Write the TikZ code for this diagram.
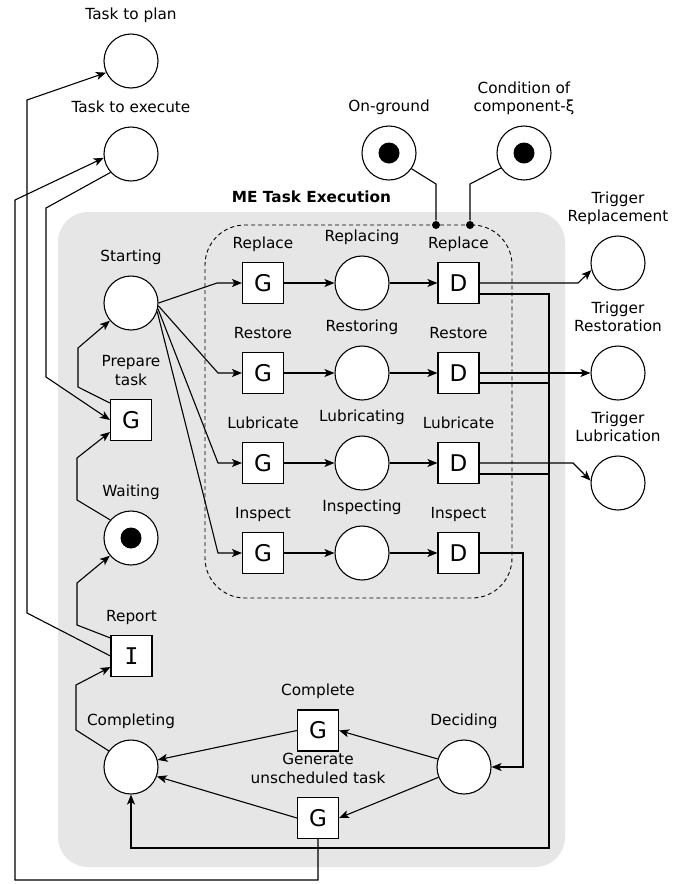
\documentclass[tikz,border=0pt]{standalone}
\usepackage{fontspec}
\setmainfont{DejaVu Sans}
\setmonofont{DejaVu Sans Mono}
\usepackage{xcolor}
\usepackage{tikz}
\usetikzlibrary{arrows.meta,petri,calc}

\definecolor{bggrey}{HTML}{E6E6E6}

\begin{document}
\begin{tikzpicture}[
  x=1pt, y=-1pt,
  font=\fontsize{15.3}{18.5}\selectfont,
  line width=1.1pt,
  label distance=7.5pt,
  every label/.style={inner sep=0pt, align=center, execute at end node=\strut},
  place/.style={circle, draw, fill=white, inner sep=0pt, minimum size=54pt},
  transition/.style={rectangle, draw, fill=white, inner sep=0pt, minimum size=41pt, font=\fontsize{23}{26}\selectfont},
  every token/.style={minimum size=21pt},
  panel/.style={rectangle, fill=bggrey, rounded corners=30pt},
  groupbox/.style={rectangle, draw, line width=0.9pt, dash pattern=on 4pt off 3pt, rounded corners=40pt},
  dot/.style={circle, fill, inner sep=0pt, minimum size=8pt},
  arrow/.style={-{Stealth[length=10pt, width=8pt, inset=2.5pt]}}
]
  \useasboundingbox (0,0) rectangle (689,884);

  \node[panel, minimum width=507pt, minimum height=655pt,
        label={[label distance=3pt, font=\fontsize{15.3}{18.5}\selectfont\bfseries]above:ME Task Execution}] (me) at (311.5,539.5) {};
  \node[groupbox, minimum width=307pt, minimum height=373pt] (group) at (358.5,411.5) {};

  \node[place, label=above:Task to plan] (plan) at (131,61) {};
  \node[place, label=above:Task to execute] (exec) at (131,154) {};
  \node[place, tokens=1, label=above:On-ground] (ground) at (389,153) {};
  \node[place, tokens=1, label={above:Condition of\\component-ξ}] (cond) at (524,153) {};
  \node[dot] (dotA) at (436,225) {};
  \node[dot] (dotB) at (470,225) {};

  \node[place, label=above:Starting] (start) at (131,303) {};
  \node[transition, label={above:Prepare\\task}] (prep) at (131,420) {G};
  \node[place, tokens=1, label=above:Waiting] (wait) at (131,538) {};
  \node[transition, label=above:Report] (report) at (131.5,656) {\ttfamily I};

  \node[transition, label=above:Replace] (grepl) at (263,283) {G};
  \node[place, label=above:Replacing] (prepl) at (362,283) {};
  \node[transition, label=above:Replace] (drepl) at (458.5,283) {D};
  \node[transition, label=above:Restore] (grest) at (263,373) {G};
  \node[place, label=above:Restoring] (prest) at (362,373) {};
  \node[transition, label=above:Restore] (drest) at (458.5,373) {D};
  \node[transition, label=above:Lubricate] (glubr) at (263,463) {G};
  \node[place, label=above:Lubricating] (plubr) at (362,463) {};
  \node[transition, label=above:Lubricate] (dlubr) at (458.5,463) {D};
  \node[transition, label=above:Inspect] (ginsp) at (263,553) {G};
  \node[place, label=above:Inspecting] (pinsp) at (362,553) {};
  \node[transition, label=above:Inspect] (dinsp) at (458.5,553) {D};

  \node[place, label={above:Trigger\\Replacement}] (trepl) at (618,263) {};
  \node[place, label={above:Trigger\\Restoration}] (trest) at (618,373) {};
  \node[place, label={above:Trigger\\Lubrication}] (tlubr) at (618,483) {};

  \node[place, label=above:Completing] (completing) at (131,767) {};
  \node[transition, label=above:Complete] (complete) at (318,730.5) {G};
  \node[transition, label={above:Generate\\unscheduled task}] (generate) at (318,818) {G};
  \node[place, label=above:Deciding] (deciding) at (464,767) {};

  % conditions on the group
  \draw (ground.-35) -- (436,184) -- (dotA);
  \draw (cond.-147) -- (470,184) -- (dotB);

  % left loop
  \draw[arrow] (exec.-138) -- (46,208) -- (46,377) -- (prep.west);
  \draw[arrow] ([yshift=17pt]prep.west) -- (78,387) -- (78,348) -- (start.-140);
  \draw[arrow] (wait.139) -- (77,500) -- (77,458) -- ([yshift=-12pt]prep.west);
  \draw[arrow] ([yshift=18pt]report.west) -- (77,625) -- (77,583) -- (wait.-140);
  \draw[arrow] (completing.144) -- (76,730) -- (76,685) -- ([yshift=-11pt]report.west);
  \draw[arrow] (report.west) -- (27,613) -- (27,100) -- (plan.-155);
  \draw[arrow] (generate.south) -- (318,880) -| (15,200) -- (exec.-172);

  % task kinds
  \draw[arrow] (start.east) -- (217,283) -- (grepl);
  \draw[arrow] (start.-6) -- (218,373) -- (grest);
  \draw[arrow] (start.-12) -- (218,463) -- (glubr);
  \draw[arrow] (start.-18) -- (218,553) -- (ginsp);
  \draw[arrow] (grepl) -- (prepl);
  \draw[arrow] (prepl) -- (drepl);
  \draw[arrow] (grest) -- (prest);
  \draw[arrow] (prest) -- (drest);
  \draw[arrow] (glubr) -- (plubr);
  \draw[arrow] (plubr) -- (dlubr);
  \draw[arrow] (ginsp) -- (pinsp);
  \draw[arrow] (pinsp) -- (dinsp);

  % outputs of the group
  \draw[arrow] (drepl.east) -- (578,283) -- (trepl.-165);
  \draw[arrow] (drest.east) -- (trest);
  \draw[arrow] (dlubr.east) -- (573,463) -- (tlubr.175);
  \draw[arrow] ([yshift=-11pt]drepl.east) -| (549,848) -| (completing);
  \draw ([yshift=-10pt]drest.east) -- (549,383);
  \draw ([yshift=-11pt]dlubr.east) -- (549,474);
  \draw[arrow] (dinsp.east) -- (523,553) |- (deciding);

  % deciding
  \draw[arrow] (deciding.163) -- (complete.east);
  \draw[arrow] (deciding.-158) -- (generate.east);
  \draw[arrow] (complete.west) -- (completing.15);
  \draw[arrow] (generate.west) -- (completing.-20);
\end{tikzpicture}
\end{document}
